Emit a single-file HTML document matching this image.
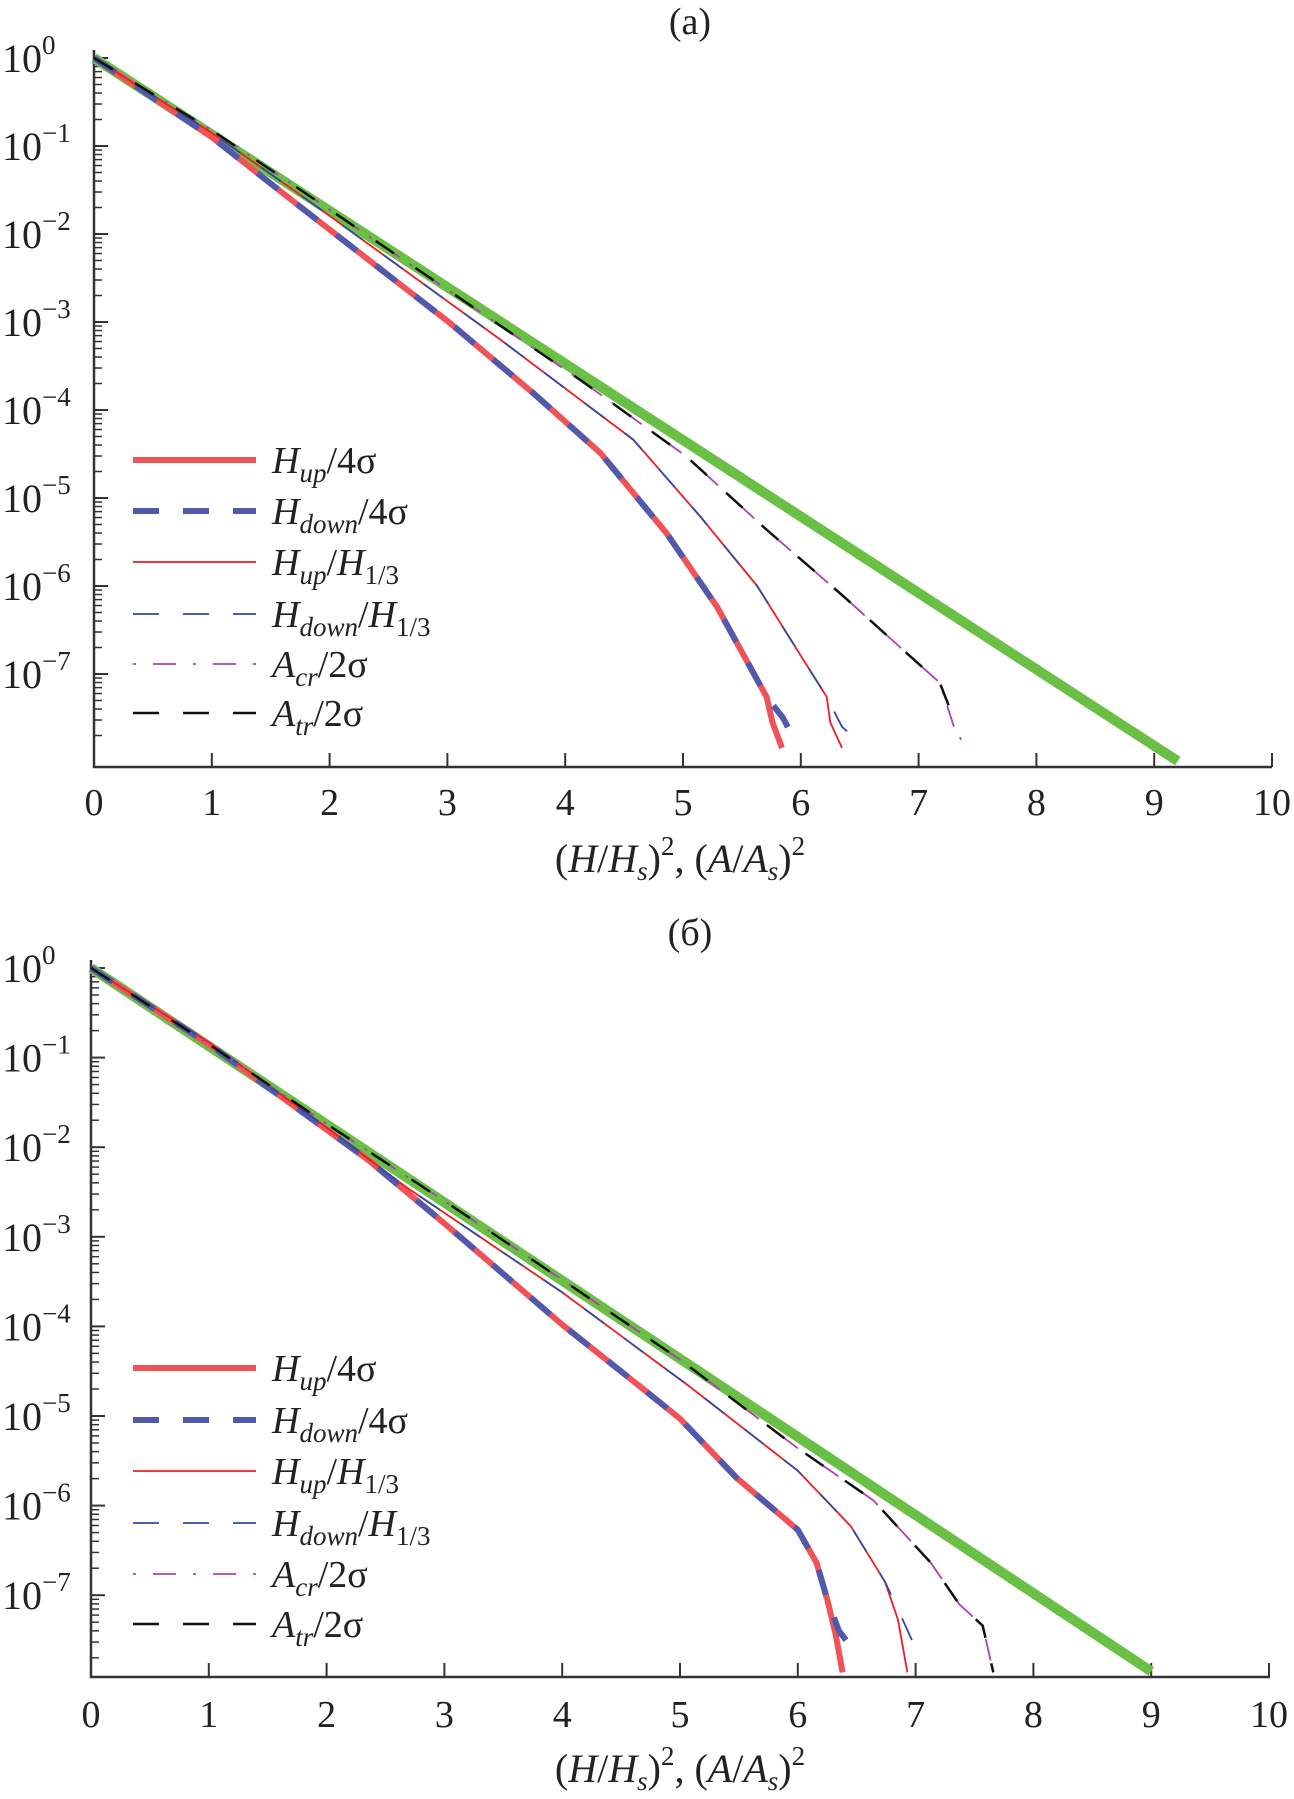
<!DOCTYPE html>
<html><head><meta charset="utf-8"><style>
html,body{margin:0;padding:0;background:#fff;}
svg{display:block;font-family:"Liberation Serif",serif;}
</style></head><body>
<svg id="chart" width="1294" height="1799" viewBox="0 0 1294 1799" xmlns="http://www.w3.org/2000/svg"></svg>
<script>
// ---- data (log10 of exceedance probability) ----
const xTicks = [0,1,2,3,4,5,6,7,8,9,10];
const yDecades = [0,-1,-2,-3,-4,-5,-6,-7];
const legendLabels = ["Hup4s","Hdown4s","HupH13","HdownH13","Acr","Atr"];
// panel (a)
const aHx  = [0, 1, 1.75, 3.02, 3.73, 4.3, 4.86, 5.29, 5.71, 5.76, 5.84];
const aHup = [0, -0.9, -1.69, -3.01, -3.81, -4.49, -5.4, -6.24, -7.26, -7.55, -7.84];
const aHdx = [0, 1, 1.75, 3.02, 3.73, 4.3, 4.86, 5.29, 5.71, 5.85, 5.98];
const aHdn = [0, -0.9, -1.69, -3.01, -3.81, -4.49, -5.4, -6.24, -7.26, -7.5, -7.84];
const aTx  = [0, 1, 1.81, 3.45, 4.58, 5.14, 5.63, 5.99, 6.22, 6.25, 6.35];
const aTup = [0, -0.85, -1.61, -3.2, -4.34, -5.2, -6.0, -6.77, -7.26, -7.55, -7.84];
const aTdx = [0, 1, 1.81, 3.45, 4.58, 5.14, 5.63, 5.99, 6.22, 6.35, 6.55];
const aTdn = [0, -0.85, -1.61, -3.2, -4.34, -5.2, -6.0, -6.77, -7.26, -7.6, -7.84];
const aAx  = [0, 1, 1.92, 4.15, 5.03, 5.71, 6.33, 7.18, 7.3, 7.4];
const aAcr = [0, -0.82, -1.65, -3.68, -4.53, -5.36, -6.08, -7.1, -7.6, -7.84];
const aAtx = [0, 1, 1.92, 4.15, 5.03, 5.71, 6.33, 7.18, 7.3];
const aAtr = [0, -0.82, -1.65, -3.68, -4.53, -5.36, -6.08, -7.1, -7.51];
const aGx  = [0, 9.2];
const aG   = [0, -7.99];
// panel (б)
const bHx  = [0, 1, 2.35, 3, 4, 4.66, 5, 5.48, 6, 6.16, 6.25, 6.32, 6.38];
const bHup = [0, -0.85, -2.14, -2.85, -3.98, -4.67, -5.03, -5.69, -6.27, -6.64, -7.05, -7.43, -7.86];
const bHdx = [0, 1, 2.35, 3, 4, 4.66, 5, 5.48, 6, 6.16, 6.25, 6.35, 6.45];
const bHdn = [0, -0.85, -2.14, -2.85, -3.98, -4.67, -5.03, -5.69, -6.27, -6.64, -7.05, -7.4, -7.57];
const bTx  = [0, 1, 2, 2.67, 4, 5.08, 6, 6.45, 6.74, 6.85, 6.93];
const bTup = [0, -0.83, -1.78, -2.44, -3.62, -4.67, -5.61, -6.23, -6.85, -7.27, -7.86];
const bTdx = [0, 1, 2, 2.67, 4, 5.08, 6, 6.45, 6.74, 6.9, 7.03];
const bTdn = [0, -0.83, -1.78, -2.44, -3.62, -4.67, -5.61, -6.23, -6.85, -7.3, -7.68];
const bAx  = [0, 1, 2, 3, 4, 5, 6, 6.64, 7.13, 7.37, 7.57, 7.66];
const bAcr = [0, -0.85, -1.74, -2.6, -3.48, -4.37, -5.36, -5.94, -6.64, -7.1, -7.34, -7.86];
const bAtx = [0, 1, 2, 3, 4, 5, 6, 6.64, 7.13, 7.37, 7.57, 7.66];
const bAtr = [0, -0.85, -1.74, -2.6, -3.48, -4.37, -5.36, -5.94, -6.64, -7.1, -7.34, -7.86];
const bGx  = [0, 9.0];
const bG   = [0, -7.85];

const NS = "http://www.w3.org/2000/svg";
const svg = document.getElementById('chart');
function el(tag, attrs, parent){
  const e = document.createElementNS(NS, tag);
  for (const k in attrs) e.setAttribute(k, attrs[k]);
  (parent||svg).appendChild(e); return e;
}

const panels = [
  {id:'a', title:'(a)', titleY:34, x0:94, ux:117.8, y0:58, dec:88, bottom:767, right:1272, tickY:815, xlabY:872,
   legY:[460,511,562,614,664,713],
   series:[[aGx,aG],[aHx,aHup],[aHdx,aHdn],[aTx,aTup],[aTdx,aTdn],[aAx,aAcr],[aAtx,aAtr]]},
  {id:'b', title:'(б)', titleY:945, x0:91, ux:117.8, y0:968, dec:89.6, bottom:1677, right:1270, tickY:1727, xlabY:1782,
   legY:[1368,1420,1471,1523,1574,1624],
   series:[[bGx,bG],[bHx,bHup],[bHdx,bHdn],[bTx,bTup],[bTdx,bTdn],[bAx,bAcr],[bAtx,bAtr]]}
];
const styles = [
  {stroke:'#6abf45', w:10, dash:null, name:'rayleigh-line'},
  {stroke:'#ef5358', w:6, dash:null, name:'hup-4sigma-line'},
  {stroke:'#5059ab', w:6, dash:'26 24', name:'hdown-4sigma-line'},
  {stroke:'#ee1c24', w:1.8, dash:null, name:'hup-h13-line'},
  {stroke:'#3048a8', w:1.8, dash:'24 26', name:'hdown-h13-line'},
  {stroke:'#b040b0', w:1.8, dash:'22 12 3 12', name:'acr-line'},
  {stroke:'#111', w:2.5, dash:'22 26', name:'atr-line'}
];
const legendHtml = [
  ['H','up','/4σ',''],
  ['H','down','/4σ',''],
  ['H','up','/H','1/3'],
  ['H','down','/H','1/3'],
  ['A','cr','/2σ',''],
  ['A','tr','/2σ','']
];

panels.forEach(p => {
  const g = el('g', {});
  
  
  const sx = v => p.x0 + v * p.ux;
  const sy = v => p.y0 - v * p.dec;
  const t = el('text', {x:690, y:p.titleY, 'font-size':38, 'text-anchor':'middle', fill:'#222'}, g);
  t.textContent = p.title;
  
  
  const ax = el('path', {d:`M${p.x0} ${p.y0-8} V${p.bottom} H${p.right}`, stroke:'#333', 'stroke-width':2.5, fill:'none'}, g);
  
  
  xTicks.forEach(v => {
    el('line', {x1:sx(v), x2:sx(v), y1:p.bottom, y2:p.bottom-14, stroke:'#333', 'stroke-width':2}, g);
    const tl = el('text', {x:sx(v), y:p.tickY, 'font-size':38, 'text-anchor':'middle', fill:'#222'}, g);
    tl.textContent = v;
    
    
  });
  yDecades.forEach(d => {
    el('line', {x1:p.x0, x2:p.x0+14, y1:sy(d), y2:sy(d), stroke:'#333', 'stroke-width':2}, g);
    for (let m=2; m<=9; m++){
      const yy = sy(d-1+Math.log10(m));
      if (yy > p.bottom - 2) continue;
      el('line', {x1:p.x0, x2:p.x0+8, y1:yy, y2:yy, stroke:'#333', 'stroke-width':1.5}, g);
    }
    const tl = el('text', {x:2, y:sy(d)+14, 'font-size':40, fill:'#222'}, g);
    tl.innerHTML = '10<tspan dy="-18" font-size="27">' + (d===0?'0':'−'+(-d)) + '</tspan>';
    
    
  });
  const xl = el('text', {x:680, y:p.xlabY, 'font-size':40, 'text-anchor':'middle', fill:'#222'}, g);
  xl.innerHTML = '(<tspan font-style="italic">H</tspan>/<tspan font-style="italic">H</tspan><tspan font-style="italic" font-size="27" dy="8">s</tspan><tspan dy="-8">)</tspan><tspan font-size="27" dy="-17">2</tspan><tspan dy="17">, (</tspan><tspan font-style="italic">A</tspan>/<tspan font-style="italic">A</tspan><tspan font-style="italic" font-size="27" dy="8">s</tspan><tspan dy="-8">)</tspan><tspan font-size="27" dy="-17">2</tspan>';
  
  
  p.series.forEach((s, i) => {
    const st = styles[i];
    const d = s[0].map((xv, k) => (k?'L':'M') + sx(xv).toFixed(1) + ' ' + sy(s[1][k]).toFixed(1)).join(' ');
    const path = el('path', {d:d, stroke:st.stroke, 'stroke-width':st.w, fill:'none', 'stroke-linejoin':'round'}, g);
    if (st.dash) path.setAttribute('stroke-dasharray', st.dash);
    
    
  });
  p.legY.forEach((ly, i) => {
    const st = styles[i+1];
    const lg = el('g', {}, g);
    
    
    const ln = el('line', {x1:133, x2:256, y1:ly, y2:ly, stroke:st.stroke, 'stroke-width':st.w}, lg);
    if (st.dash) ln.setAttribute('stroke-dasharray', i===4 ? '3 17 23 17' : '26 24');
    const h = legendHtml[i];
    const tx = el('text', {x:272, y:ly+13, 'font-size':38, fill:'#222'}, lg);
    let html = '<tspan font-style="italic">'+h[0]+'</tspan><tspan font-style="italic" font-size="27" dy="9">'+h[1]+'</tspan><tspan dy="-9">'+h[2].replace('/H','/<tspan font-style="italic">H</tspan>')+'</tspan>';
    if (h[3]) html += '<tspan font-size="27" dy="9">'+h[3]+'</tspan>';
    tx.innerHTML = html;
  });
});
</script>
</body></html>
